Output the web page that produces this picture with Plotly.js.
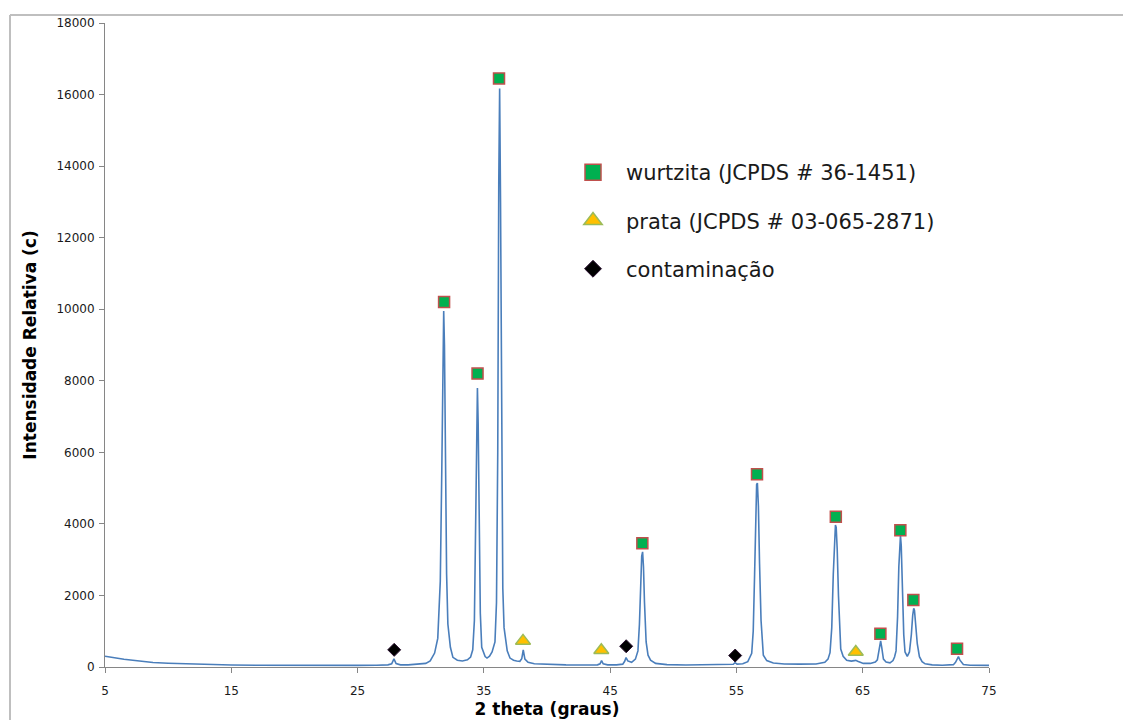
<!DOCTYPE html>
<html>
<head>
<meta charset="utf-8">
<script src="https://cdn.plot.ly/plotly-3.0.1.min.js"></script>
<style>
  html, body { margin: 0; padding: 0; background: #fff; }
  #chart { width: 1123px; height: 720px; }
</style>
</head>
<body>
<div id="chart"></div>
<script>
// Diffraction pattern (2 theta in degrees, relative intensity in counts)
const twoTheta = [
  5.0, 5.5, 6.0, 6.5, 7.2, 8.0, 8.8, 10.0, 11.5, 13.0,
  15.0, 17.0, 19.0, 21.0, 23.0, 25.0, 26.5, 27.4, 27.7, 27.88,
  28.05, 28.4, 29.0, 29.8, 30.4, 30.75, 31.1, 31.35, 31.55, 31.67,
  31.76, 31.82, 31.88, 31.96, 32.05, 32.15, 32.25, 32.35, 32.55, 32.9,
  33.3, 33.7, 33.95, 34.12, 34.25, 34.36, 34.44, 34.49, 34.55, 34.63,
  34.72, 34.83, 34.95, 35.1, 35.25, 35.45, 35.65, 35.88, 36.0, 36.1,
  36.18, 36.25, 36.32, 36.4, 36.5, 36.6, 36.7, 36.85, 37.07, 37.35,
  37.6, 37.85, 38.0, 38.12, 38.25, 38.5, 39.0, 40.0, 41.5, 43.0,
  44.0, 44.2, 44.32, 44.45, 44.8, 45.5, 46.0, 46.15, 46.26, 46.4,
  46.7, 47.0, 47.2, 47.32, 47.42, 47.5, 47.57, 47.64, 47.72, 47.85,
  48.0, 48.2, 48.6, 49.5, 51.0, 53.0, 54.3, 54.75, 54.89, 55.05,
  55.5, 55.9, 56.21, 56.33, 56.44, 56.53, 56.6, 56.66, 56.74, 56.83,
  56.95, 57.13, 57.4, 57.92, 58.8, 60.0, 61.3, 62.0, 62.25, 62.41,
  62.55, 62.67, 62.77, 62.84, 62.9, 62.98, 63.08, 63.26, 63.45, 63.73,
  64.1, 64.3, 64.45, 64.6, 65.05, 65.6, 66.0, 66.16, 66.28, 66.36,
  66.42, 66.5, 66.64, 66.85, 67.16, 67.4, 67.52, 67.64, 67.76, 67.86,
  67.94, 67.99, 68.05, 68.14, 68.25, 68.35, 68.53, 68.7, 68.85, 68.96,
  69.04, 69.1, 69.2, 69.32, 69.49, 69.7, 69.94, 70.5, 71.3, 71.9,
  72.18, 72.35, 72.5, 72.58, 72.7, 72.97, 73.5, 74.2, 75.0
];
const intensity = [
  300, 265, 235, 215, 190, 150, 125, 105, 85, 65,
  55, 50, 45, 45, 45, 45, 50, 60, 90, 225,
  95, 60, 60, 75, 100, 170, 390, 800, 2400, 5500,
  9000, 9950, 9000, 5500, 2600, 1200, 950, 550, 270, 190,
  170, 200, 280, 480, 1300, 3800, 7000, 7800, 6800, 3800,
  1500, 550, 420, 290, 250, 300, 420, 700, 1800, 6000,
  13500, 16170, 13000, 6500, 2200, 1100, 760, 450, 250, 190,
  170, 160, 230, 475, 220, 130, 90, 70, 60, 55,
  60, 90, 180, 90, 60, 60, 80, 160, 265, 170,
  130, 220, 450, 1200, 2400, 3100, 3220, 2800, 1800, 700,
  330, 190, 100, 65, 55, 55, 60, 75, 120, 80,
  90, 150, 380, 1000, 2600, 4400, 5100, 5140, 4500, 2900,
  1300, 330, 180, 110, 85, 80, 85, 130, 220, 400,
  1100, 2600, 3700, 3970, 3900, 3300, 2000, 500, 300, 190,
  165, 170, 185, 160, 100, 100, 140, 200, 450, 680,
  730, 560, 220, 140, 115, 180, 280, 450, 1400, 2800,
  3550, 3670, 3400, 2300, 900, 420, 300, 420, 900, 1450,
  1640, 1580, 1200, 650, 290, 150, 90, 60, 50, 55,
  65, 130, 270, 290, 190, 70, 50, 45, 45
];

// Phase markers
const wurtzitaX = [31.85, 34.5, 36.2, 47.55, 56.63, 62.87, 66.4, 67.98, 69.01, 72.47];
const wurtzitaY = [10200, 8200, 16450, 3460, 5390, 4200, 930, 3820, 1870, 510];
const prataX = [38.1, 44.3, 64.45];
const prataY = [730, 470, 420];
const contamX = [27.9, 46.27, 54.9];
const contamY = [480, 580, 320];

const legendNames = ['wurtzita (JCPDS # 36-1451)', 'prata (JCPDS # 03-065-2871)', 'contaminação'];
const xTickVals = [5, 15, 25, 35, 45, 55, 65, 75];
const xTickText = ['5', '15', '25', '35', '45', '55', '65', '75'];
const yTickVals = [0, 2000, 4000, 6000, 8000, 10000, 12000, 14000, 16000, 18000];
const yTickText = ['0', '2000', '4000', '6000', '8000', '10000', '12000', '14000', '16000', '18000'];

const sqMarker = {symbol: 'square', color: '#00B050', line: {color: '#C0504D', width: 1.5}};
const triMarker = {symbol: 'triangle-up', color: '#FFC000', line: {color: '#9BBB59', width: 1.5}};
const diaMarker = {symbol: 'diamond', color: '#000000', line: {color: '#2a1030', width: 1}};

const traces = [
  {x: twoTheta, y: intensity, type: 'scatter', mode: 'lines',
   line: {color: '#4A7EBB', width: 1.6}, showlegend: false, hoverinfo: 'x+y'},
  {x: wurtzitaX, y: wurtzitaY, type: 'scatter', mode: 'markers', showlegend: false,
   marker: Object.assign({size: 11}, sqMarker)},
  {x: prataX, y: prataY, type: 'scatter', mode: 'markers', showlegend: false,
   marker: Object.assign({size: 13}, triMarker)},
  {x: contamX, y: contamY, type: 'scatter', mode: 'markers', showlegend: false,
   marker: Object.assign({size: 10}, diaMarker)},
  // legend entries
  {x: [null], y: [null], type: 'scatter', mode: 'markers', name: legendNames[0],
   legendgroup: 'a', marker: Object.assign({size: 16}, sqMarker)},
  {x: [null], y: [null], type: 'scatter', mode: 'markers', name: legendNames[1],
   legendgroup: 'b', marker: Object.assign({size: 16}, triMarker)},
  {x: [null], y: [null], type: 'scatter', mode: 'markers', name: legendNames[2],
   legendgroup: 'c', marker: Object.assign({size: 13}, diaMarker)}
];

const axisColor = '#868686';
const layout = {
  width: 1123, height: 720,
  margin: {l: 105, r: 134, t: 23, b: 53},
  paper_bgcolor: '#ffffff', plot_bgcolor: '#ffffff',
  font: {family: 'DejaVu Sans, sans-serif', size: 12, color: '#1a1a1a'},
  xaxis: {
    range: [5, 75], tickvals: xTickVals, ticktext: xTickText, ticks: 'outside', ticklen: 5, tickwidth: 1,
    tickcolor: axisColor, showline: true, linecolor: axisColor, linewidth: 1, ticklabelstandoff: 8,
    showgrid: false, zeroline: false, tickfont: {size: 12, color: '#1a1a1a'},
    title: {text: '2 theta (graus)', font: {size: 17, color: '#000', family: 'DejaVu Sans, sans-serif', weight: 'bold'}, standoff: 5}
  },
  yaxis: {
    range: [0, 18000], tickvals: yTickVals, ticktext: yTickText, ticks: 'outside', ticklen: 5, tickwidth: 1,
    tickcolor: axisColor, showline: true, linecolor: axisColor, linewidth: 1, ticklabelstandoff: 2,
    showgrid: false, zeroline: false, tickfont: {size: 12, color: '#1a1a1a'},
    title: {text: 'Intensidade Relativa (c)', font: {size: 17, color: '#000', family: 'DejaVu Sans, sans-serif', weight: 'bold'}, standoff: 15}
  },
  legend: {
    x: (560 - 105) / 884, y: 1 - (152 - 23) / 644, xanchor: 'left', yanchor: 'top',
    bgcolor: 'rgba(0,0,0,0)', borderwidth: 0, tracegroupgap: 18,
    traceorder: 'grouped',
    font: {size: 21, color: '#1a1a1a', family: 'DejaVu Sans, sans-serif'},
    itemwidth: 56
  },
  shapes: [
    {type: 'line', xref: 'paper', yref: 'paper', x0: (10 - 105) / 884, x1: (1140 - 105) / 884,
     y0: 1 - (15 - 23) / 644, y1: 1 - (15 - 23) / 644, line: {color: '#BFBFBF', width: 2}},
    {type: 'line', xref: 'paper', yref: 'paper', x0: (10 - 105) / 884, x1: (10 - 105) / 884,
     y0: 1 - (15 - 23) / 644, y1: 1 - (740 - 23) / 644, line: {color: '#BFBFBF', width: 2}}
  ]
};

Plotly.newPlot('chart', traces, layout, {displayModeBar: false, staticPlot: true});
</script>
</body>
</html>
